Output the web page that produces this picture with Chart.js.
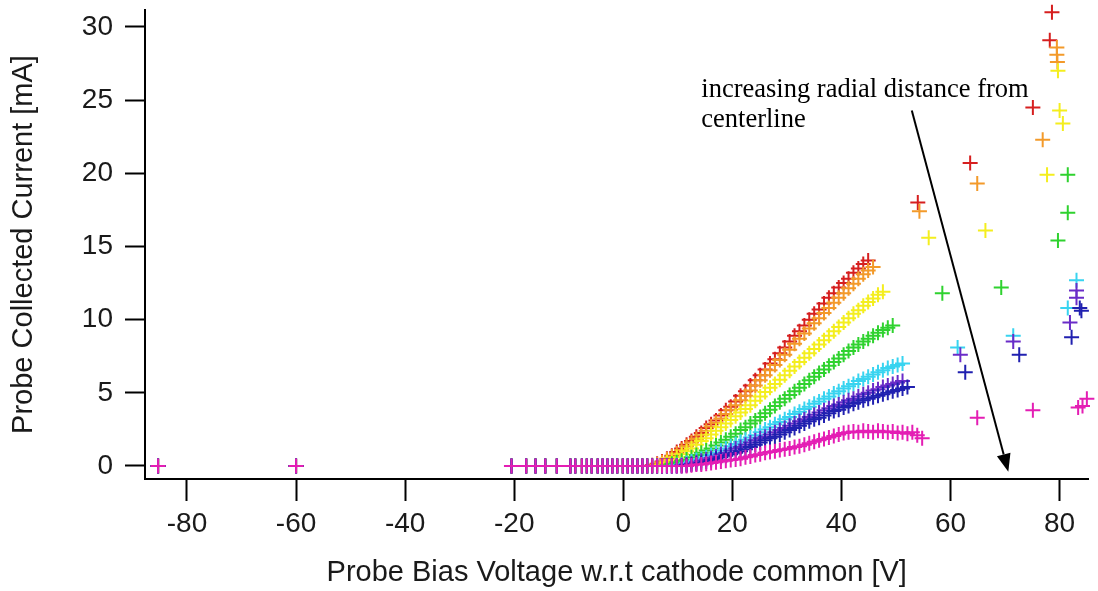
<!DOCTYPE html>
<html>
<head>
<meta charset="utf-8">
<script src="https://cdn.jsdelivr.net/npm/chart.js@4.4.1/dist/chart.umd.min.js"></script>
<style>
  html, body { margin: 0; padding: 0; background: #fff; }
  #wrap { width: 1098px; height: 591px; }
</style>
</head>
<body>
<div id="wrap"><canvas id="myChart" width="1098" height="591"></canvas></div>
<script>
// Bias sweep voltages [V], shared by all the radial positions
const sweepV = [-20.5, -17.8, -16.1, -14.3, -12.2, -9.7, -8.8, -7.6, -6.7, -5.8, -4.7, -3.8, -2.9, -2.0, -1.1, -0.1,
  0.8, 1.7, 2.6, 3.5, 4.4, 5.3, 6.2, 7.1, 8.0, 8.9, 9.8, 10.7, 11.6, 12.5, 13.4, 14.3, 15.2, 16.1, 17.0, 17.9,
  18.8, 19.7, 20.6, 21.5, 22.4, 23.3, 24.2, 25.1, 26.0, 26.9, 27.8, 28.7, 29.6, 30.5, 31.4, 32.3, 33.2, 34.1,
  35.0, 35.9, 36.8, 37.7, 38.6, 39.5, 40.4, 41.3, 42.2, 43.1, 44.0, 44.9, 45.8, 46.7, 47.6, 48.5, 49.4, 50.3,
  51.2, 52.1, 53.0, 53.9, 54.8];

// Collected current [mA] along the sweep, one array per radial position
const redI = [0,0,0,0,0,0,0,0,0,0,0,0,0,0,0,0,
  0,0,0,0,0, 0.05,0.15,0.3,0.5,0.7,0.95,1.2,1.45,1.7,2.0,2.25,2.6,2.85,3.1,3.45,3.8,4.05,4.4,4.8,5.1,
  5.5,5.85,6.2,6.6,7.0,7.3,7.7,8.1,8.5,8.9,9.2,9.6,10.0,10.4,10.7,11.1,11.5,11.8,12.2,12.5,12.8,13.2,13.5,13.8,14.05];
const orangeI = [0,0,0,0,0,0,0,0,0,0,0,0,0,0,0,0,
  0,0,0,0,0,0, 0.1,0.25,0.45,0.65,0.85,1.1,1.35,1.6,1.85,2.1,2.4,2.7,2.95,3.25,3.55,3.85,4.15,4.5,4.8,5.15,
  5.5,5.85,6.2,6.55,6.9,7.25,7.6,7.95,8.35,8.7,9.05,9.4,9.75,10.1,10.45,10.8,11.15,11.5,11.8,12.15,
  12.45,12.8,13.1,13.35,13.6];
const yellowI = [0,0,0,0,0,0,0,0,0,0,0,0,0,0,0,0,
  0,0,0,0,0,0,0, 0.1,0.25,0.4,0.6,0.8,1.0,1.2,1.45,1.7,1.9,2.15,2.4,2.65,2.9,3.15,3.4,3.65,3.9,4.15,4.45,
  4.75,5.05,5.35,5.6,5.9,6.2,6.5,6.8,7.1,7.4,7.7,8.0,8.3,8.6,8.9,9.2,9.5,9.8,10.1,10.4,
  10.65,10.95,11.2,11.45,11.7,11.9];
const greenI = [0,0,0,0,0,0,0,0,0,0,0,0,0,0,0,0,
  0,0,0,0,0,0,0,0, 0.05,0.15,0.25,0.35,0.45,0.6,0.75,0.9,1.05,1.2,1.4,1.6,1.8,2.0,2.2,2.45,2.65,2.9,3.1,3.35,
  3.6,3.85,4.1,4.35,4.6,4.85,5.1,5.35,5.6,5.85,6.1,6.35,6.6,6.85,7.1,7.35,7.6,7.85,8.1,8.3,
  8.5,8.7,8.9,9.1,9.3,9.45,9.6];
const cyanI = [0,0,0,0,0,0,0,0,0,0,0,0,0,0,0,0,
  0,0,0,0,0,0,0,0,0,0, 0.05,0.1,0.2,0.3,0.4,0.5,0.6,0.75,0.9,1.05,1.2,1.35,1.5,1.65,1.8,1.95,2.1,2.3,2.5,2.65,
  2.85,3.0,3.2,3.35,3.55,3.7,3.9,4.05,4.25,4.4,4.6,4.75,4.95,5.1,5.3,5.45,5.6,5.8,5.95,6.1,
  6.25,6.4,6.55,6.7,6.8,6.9,7.0];
const violetI = [0,0,0,0,0,0,0,0,0,0,0,0,0,0,0,0,
  0,0,0,0,0,0,0,0,0,0,0, 0.05,0.1,0.15,0.25,0.35,0.45,0.55,0.65,0.8,0.9,1.05,1.2,1.3,1.45,1.6,1.75,1.9,2.0,
  2.15,2.3,2.45,2.6,2.75,2.9,3.05,3.2,3.35,3.5,3.65,3.8,3.95,4.1,4.2,4.35,4.5,4.6,4.75,4.9,5.0,5.15,
  5.25,5.4,5.5,5.6,5.7,5.8];
const blueI = [0,0,0,0,0,0,0,0,0,0,0,0,0,0,0,0,
  0,0,0,0,0,0,0,0,0,0,0,0, 0.05,0.1,0.15,0.2,0.3,0.4,0.5,0.6,0.7,0.8,0.9,1.0,1.15,1.3,1.45,1.6,1.75,1.9,2.0,
  2.15,2.3,2.45,2.6,2.75,2.9,3.05,3.2,3.3,3.45,3.6,3.75,3.85,4.0,4.1,4.25,4.35,4.5,4.6,4.7,4.8,
  4.9,5.0,5.1,5.2,5.3,5.4];
const magentaI = [0,0,0,0,0,0,0,0,0,0,0,0,0,0,0,0,
  0,0,0,0,0,0,0,0,0,0,0,0,0, 0.05,0.1,0.1,0.15,0.2,0.25,0.3,0.35,0.4,0.45,0.5,0.6,0.65,0.75,0.8,
  0.9,0.95,1.0,1.1,1.15,1.2,1.3,1.35,1.45,1.55,1.65,1.75,1.85,1.95,2.05,2.15,2.25,2.3,2.35,2.3,
  2.4,2.35,2.3,2.4,2.35,2.3,2.35,2.25,2.3,2.2,2.3,2.1,1.9];

// Far negative bias points (all positions read 0 there)
const farV = [-85.3, -60.0];
const farI = [0, 0];

// Scattered high-bias points for each position
const redHighV = [54.0, 63.6, 75.1, 78.2, 78.6];
const redHighI = [18.0, 20.7, 24.5, 29.1, 31.0];
const orangeHighV = [54.3, 64.9, 76.9, 79.5, 79.5, 79.6];
const orangeHighI = [17.4, 19.3, 22.3, 28.6, 28.1, 27.6];
const yellowHighV = [56.0, 66.4, 77.7, 80.0, 80.6, 79.7];
const yellowHighI = [15.6, 16.1, 19.9, 24.3, 23.4, 27.0];
const greenHighV = [58.5, 69.3, 81.5, 81.5, 79.7];
const greenHighI = [11.8, 12.2, 19.9, 17.3, 15.4];
const cyanHighV = [61.3, 71.5, 83.1, 81.5];
const cyanHighI = [8.1, 8.9, 12.7, 10.8];
const violetHighV = [61.8, 71.5, 83.1, 83.1, 81.9];
const violetHighI = [7.6, 8.5, 12.0, 11.5, 9.8];
const blueHighV = [62.7, 72.6, 83.7, 82.2, 84.0];
const blueHighI = [6.4, 7.6, 10.8, 8.8, 10.6];
const magentaHighV = [64.9, 75.1, 84.2, 85.0, 83.4];
const magentaHighI = [3.3, 3.8, 4.1, 4.6, 4.0];

// Tick values
const xTicks = [-80, -60, -40, -20, 0, 20, 40, 60, 80];
const yTicks = [0, 5, 10, 15, 20, 25, 30];

// Each radial position with its colour (red = closest to centerline)
const series = [
  { cur: redI,     highV: redHighV,     highI: redHighI,     color: '#d61f1f' },
  { cur: orangeI,  highV: orangeHighV,  highI: orangeHighI,  color: '#f39a2a' },
  { cur: yellowI,  highV: yellowHighV,  highI: yellowHighI,  color: '#f4ee1e' },
  { cur: greenI,   highV: greenHighV,   highI: greenHighI,   color: '#2fd22f' },
  { cur: cyanI,    highV: cyanHighV,    highI: cyanHighI,    color: '#38d4f0' },
  { cur: violetI,  highV: violetHighV,  highI: violetHighI,  color: '#6a2cc8' },
  { cur: blueI,    highV: blueHighV,    highI: blueHighI,    color: '#2020b0' },
  { cur: magentaI, highV: magentaHighV, highI: magentaHighI, color: '#e41eb4' }
];

function buildPoints(s) {
  const pts = [];
  farV.forEach((v, i) => pts.push({ x: v, y: farI[i] }));
  s.cur.forEach((c, i) => pts.push({ x: sweepV[i], y: c }));
  s.highV.forEach((v, i) => pts.push({ x: v, y: s.highI[i] }));
  return pts;
}

const datasets = series.map((s, i) => ({
  data: buildPoints(s),
  // later positions are drawn on top (magenta covers the others at 0 mA)
  order: series.length - 1 - i,
  showLine: false,
  clip: false,
  pointStyle: 'cross',
  pointRadius: 7.5,
  pointHoverRadius: 7.5,
  pointBorderWidth: 2,
  pointBorderColor: s.color,
  pointBackgroundColor: s.color
}));

// Annotation: text and arrow, placed in data coordinates
const noteLines = ['increasing radial distance from', 'centerline'];
const noteAt = { x: 14.3, y: 25.2 };
const arrowFrom = { x: 52.9, y: 24.3 };
const arrowTo = { x: 70.6, y: -0.4 };

const radialNote = {
  id: 'radialNote',
  afterDatasetsDraw(chart) {
    const { ctx, scales: { x, y } } = chart;
    ctx.save();
    ctx.fillStyle = '#000';
    ctx.strokeStyle = '#000';
    ctx.font = '26.5px "Liberation Serif", "Times New Roman", serif';
    ctx.textAlign = 'left';
    ctx.textBaseline = 'alphabetic';
    const tx = x.getPixelForValue(noteAt.x);
    const ty = y.getPixelForValue(noteAt.y);
    noteLines.forEach((line, i) => ctx.fillText(line, tx, ty + i * 30));

    const x0 = x.getPixelForValue(arrowFrom.x), y0 = y.getPixelForValue(arrowFrom.y);
    const x1 = x.getPixelForValue(arrowTo.x), y1 = y.getPixelForValue(arrowTo.y);
    const ang = Math.atan2(y1 - y0, x1 - x0);
    const head = 18, half = 7;
    const bx = x1 - head * Math.cos(ang), by = y1 - head * Math.sin(ang);
    ctx.lineWidth = 2;
    ctx.beginPath();
    ctx.moveTo(x0, y0);
    ctx.lineTo(bx, by);
    ctx.stroke();
    ctx.beginPath();
    ctx.moveTo(x1, y1);
    ctx.lineTo(bx - half * Math.sin(ang), by + half * Math.cos(ang));
    ctx.lineTo(bx + half * Math.sin(ang), by - half * Math.cos(ang));
    ctx.closePath();
    ctx.fill();
    ctx.restore();
  }
};

const axisFont = { family: '"Liberation Sans", Arial, sans-serif', size: 28 };
const titleFont = { family: '"Liberation Sans", Arial, sans-serif', size: 29 };

new Chart(document.getElementById('myChart'), {
  type: 'scatter',
  data: { datasets },
  options: {
    responsive: false,
    animation: false,
    layout: { padding: { top: 10, right: 5, bottom: 0, left: 0 } },
    plugins: {
      legend: { display: false },
      tooltip: { enabled: false }
    },
    scales: {
      x: {
        type: 'linear',
        min: -87.7,
        max: 85.3,
        afterBuildTicks: s => { s.ticks = xTicks.map(v => ({ value: v })); },
        afterFit: s => { s.height = 112; s.paddingLeft = 0; s.paddingRight = 0; },
        border: { display: true, color: '#000', width: 2 },
        grid: { drawOnChartArea: false, drawTicks: true, tickLength: 22, tickColor: '#000', tickWidth: 2 },
        ticks: { padding: 6, color: '#1a1a1a', font: axisFont },
        title: {
          display: true,
          text: 'Probe Bias Voltage w.r.t cathode common [V]',
          color: '#1a1a1a',
          font: titleFont,
          padding: { top: 0, bottom: 1 }
        }
      },
      y: {
        type: 'linear',
        min: -0.89,
        max: 31.16,
        afterBuildTicks: s => { s.ticks = yTicks.map(v => ({ value: v })); },
        afterFit: s => { s.width = 145; s.paddingTop = 0; s.paddingBottom = 0; },
        border: { display: true, color: '#000', width: 2 },
        grid: { drawOnChartArea: false, drawTicks: true, tickLength: 20, tickColor: '#000', tickWidth: 2 },
        ticks: { padding: 12, color: '#1a1a1a', font: axisFont },
        title: {
          display: true,
          text: 'Probe Collected Current [mA]',
          color: '#1a1a1a',
          font: titleFont,
          padding: { top: 7, bottom: 0 }
        }
      }
    }
  },
  plugins: [radialNote]
});
</script>
</body>
</html>
